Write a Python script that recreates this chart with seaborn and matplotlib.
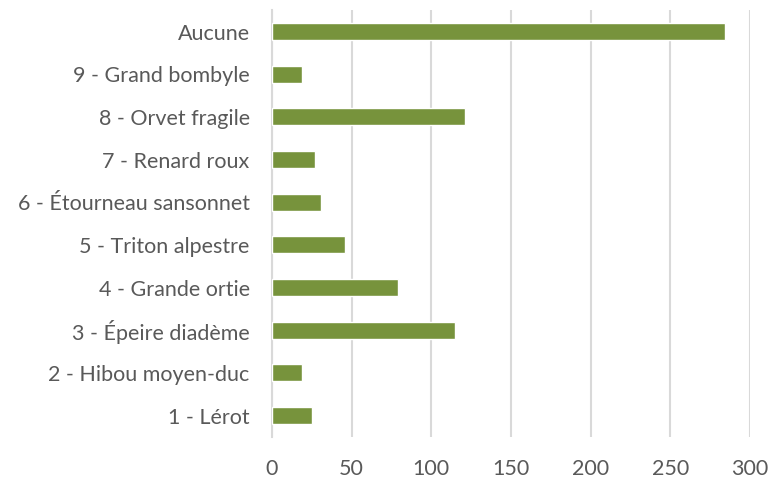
import matplotlib
matplotlib.use("Agg")
import matplotlib.pyplot as plt
import seaborn as sns
import pandas as pd

# categories listed top to bottom as in the chart
categories = ["Aucune", "9 - Grand bombyle", "8 - Orvet fragile", "7 - Renard roux",
              "6 - Étourneau sansonnet", "5 - Triton alpestre", "4 - Grande ortie",
              "3 - Épeire diadème", "2 - Hibou moyen-duc", "1 - Lérot"]
counts = [284, 19, 121, 27, 31, 46, 79, 115, 19, 25]
xticks = [0, 50, 100, 150, 200, 250, 300]

df = pd.DataFrame({"espece": categories, "n": counts})

sns.set_style("white")
plt.rcParams["font.family"] = ["Lato", "DejaVu Sans"]

fig = plt.figure(figsize=(7.79, 4.87), dpi=100)
ax = fig.add_axes([0.349, 0.103, 0.614, 0.876])

sns.barplot(data=df, x="n", y="espece", order=categories, color="#77933C",
            saturation=1, width=0.4, ax=ax, zorder=3)

ax.set_xlim(0, 300)
ax.set_xticks(xticks)
ax.grid(axis="x", color="#D9D9D9", linewidth=1.5, zorder=0)
ax.grid(axis="y", visible=False)
for s in ["top", "right", "bottom"]:
    ax.spines[s].set_visible(False)
ax.spines["left"].set_color("#D9D9D9")
ax.spines["left"].set_linewidth(1.5)
ax.tick_params(axis="both", length=0, labelsize=15.5, colors="#595959")
ax.tick_params(axis="x", pad=16)
ax.tick_params(axis="y", pad=16)
ax.set_xlabel("")
ax.set_ylabel("")

fig.savefig("out.png", dpi=100)
